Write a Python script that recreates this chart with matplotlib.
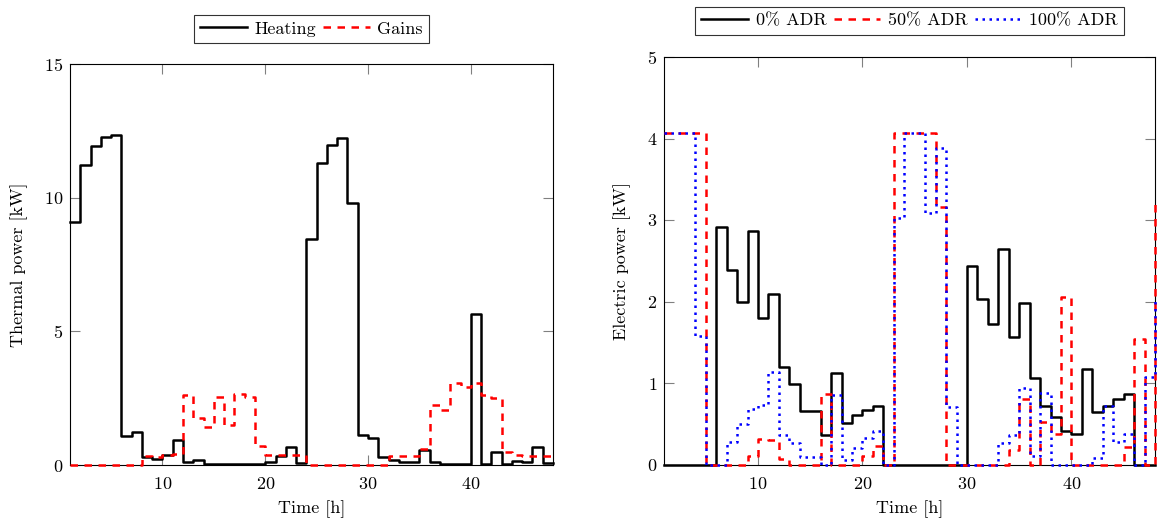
import numpy as np
import matplotlib
matplotlib.use("Agg")
import matplotlib.pyplot as plt
from matplotlib.lines import Line2D

plt.rcParams["font.family"] = "serif"
plt.rcParams["font.serif"] = ["cmr10", "DejaVu Serif"]
plt.rcParams["mathtext.fontset"] = "cm"
plt.rcParams["axes.formatter.use_mathtext"] = True
plt.rcParams["axes.unicode_minus"] = False

# Hourly time stamps (value holds on [h, h+1))
hours = np.arange(1, 49)

# Thermal side
heating = [9.08, 11.22, 11.93, 12.26, 12.33, 1.08, 1.25, 0.29, 0.21, 0.37,
           0.94, 0.12, 0.19, 0.05, 0.03, 0.02, 0.03, 0.02, 0.02, 0.10,
           0.35, 0.69, 0.08, 8.44, 11.31, 11.96, 12.24, 9.80, 1.11, 1.01,
           0.29, 0.17, 0.12, 0.12, 0.57, 0.10, 0.05, 0.03, 0.02, 5.66,
           0.02, 0.47, 0.05, 0.15, 0.10, 0.66, 0.07, 0.07]
gains = [0.0, 0.0, 0.0, 0.0, 0.0, 0.0, 0.0, 0.33, 0.30, 0.38,
         0.40, 2.62, 1.75, 1.43, 2.53, 1.50, 2.66, 2.56, 0.71, 0.36,
         0.36, 0.36, 0.36, 0.0, 0.0, 0.0, 0.0, 0.0, 0.0, 0.0,
         0.0, 0.34, 0.34, 0.34, 0.60, 2.24, 2.06, 3.05, 2.90, 3.05,
         2.62, 2.52, 0.50, 0.37, 0.35, 0.35, 0.35, 0.35]

# Electric side, three ADR levels
adr_0 = [0.0, 0.0, 0.0, 0.0, 0.0, 2.91, 2.39, 1.99, 2.87, 1.80,
         2.09, 1.20, 0.99, 0.66, 0.66, 0.36, 1.12, 0.51, 0.61, 0.67,
         0.72, 0.0, 0.0, 0.0, 0.0, 0.0, 0.0, 0.0, 0.0, 2.44,
         2.03, 1.72, 2.65, 1.56, 1.98, 1.06, 0.72, 0.58, 0.41, 0.37,
         1.17, 0.64, 0.72, 0.80, 0.86, 0.0, 0.0, 0.0]
adr_50 = [4.07, 4.07, 4.07, 4.07, 0.0, 0.0, 0.0, 0.0, 0.10, 0.31,
          0.30, 0.07, 0.0, 0.0, 0.0, 0.86, 0.0, 0.0, 0.0, 0.10,
          0.23, 0.0, 4.07, 4.07, 4.07, 4.07, 3.16, 0.0, 0.0, 0.0,
          0.0, 0.0, 0.0, 0.18, 0.80, 0.0, 0.52, 0.37, 2.05, 0.0,
          0.0, 0.0, 0.0, 0.0, 0.22, 1.54, 0.0, 3.27]
adr_100 = [4.07, 4.07, 4.07, 1.58, 0.0, 0.0, 0.28, 0.50, 0.68, 0.73,
           1.13, 0.36, 0.26, 0.09, 0.09, 0.0, 0.85, 0.05, 0.20, 0.33,
           0.41, 0.0, 3.02, 4.07, 4.07, 3.08, 3.88, 0.71, 0.0, 0.0,
           0.0, 0.0, 0.26, 0.36, 0.94, 0.10, 0.88, 0.0, 0.0, 0.0,
           0.0, 0.08, 0.72, 0.28, 0.38, 0.0, 1.07, 2.05]

left_yticks = [0, 5, 10, 15]
right_yticks = [0, 1, 2, 3, 4, 5]
xticks = [10, 20, 30, 40]

W, H = 1161, 523
fig = plt.figure(figsize=(W / 100, H / 100), dpi=100)

FS = 13
LW = 1.8
RED_DASH = (3.0, 2.6)
BLUE_DOT = (1.0, 1.8)
TICK_GREY = "#808080"


def px_axes(l, t, r, b):
    return fig.add_axes([l / W, 1 - b / H, (r - l) / W, (b - t) / H])


def style_axes(ax, ylim, yticks, ylabel):
    ax.set_xlim(1, 48)
    ax.set_ylim(*ylim)
    ax.set_xticks(xticks)
    ax.set_yticks(yticks)
    ax.tick_params(direction="in", length=7, width=0.8, color=TICK_GREY,
                   labelsize=FS, top=True, right=True)
    ax.tick_params(axis="x", pad=8)
    ax.tick_params(axis="y", pad=5)
    for s in ax.spines.values():
        s.set_linewidth(0.8)
        s.set_color("black")
    ax.set_xlabel("Time [h]", fontsize=FS, labelpad=6)
    ax.set_ylabel(ylabel, fontsize=FS, labelpad=11)


# Thermal power panel
ax1 = px_axes(70, 64, 553, 465)
ax1.step(hours, heating, where="post", color="black", lw=LW, clip_on=False,
         zorder=3)
ax1.step(hours, gains, where="post", color="red", lw=LW, dashes=RED_DASH,
         clip_on=False, zorder=4)
style_axes(ax1, (0, 15), left_yticks, "Thermal power [kW]")

h1 = [Line2D([], [], color="black", lw=LW),
      Line2D([], [], color="red", lw=LW, dashes=RED_DASH)]
leg1 = ax1.legend(h1, ["Heating", "Gains"], loc="lower center",
                  bbox_to_anchor=(0.5, 1.0 + 21 / 401), ncol=2, fontsize=FS,
                  frameon=True, fancybox=False, edgecolor="black",
                  handlelength=2.6, handletextpad=0.4, columnspacing=0.4,
                  borderpad=0.35, borderaxespad=0.0)
leg1.get_frame().set_linewidth(0.8)

# Electric power panel
ax2 = px_axes(664, 57, 1155, 464.5)
ax2.step(hours, adr_0, where="post", color="black", lw=LW, clip_on=False,
         zorder=3)
ax2.step(hours, adr_50, where="post", color="red", lw=LW, dashes=RED_DASH,
         clip_on=False, zorder=4)
ax2.step(hours, adr_100, where="post", color="blue", lw=LW, dashes=BLUE_DOT,
         clip_on=False, zorder=5)
style_axes(ax2, (0, 5), right_yticks, "Electric power [kW]")

h2 = [Line2D([], [], color="black", lw=LW),
      Line2D([], [], color="red", lw=LW, dashes=RED_DASH),
      Line2D([], [], color="blue", lw=LW, dashes=BLUE_DOT)]
leg2 = ax2.legend(h2, ["0% ADR", "50% ADR", "100% ADR"], loc="lower center",
                  bbox_to_anchor=(0.5, 1.0 + 22 / 407.5), ncol=3, fontsize=FS,
                  frameon=True, fancybox=False, edgecolor="black",
                  handlelength=2.6, handletextpad=0.4, columnspacing=0.4,
                  borderpad=0.35, borderaxespad=0.0)
leg2.get_frame().set_linewidth(0.8)

fig.savefig("out.png", dpi=100)
